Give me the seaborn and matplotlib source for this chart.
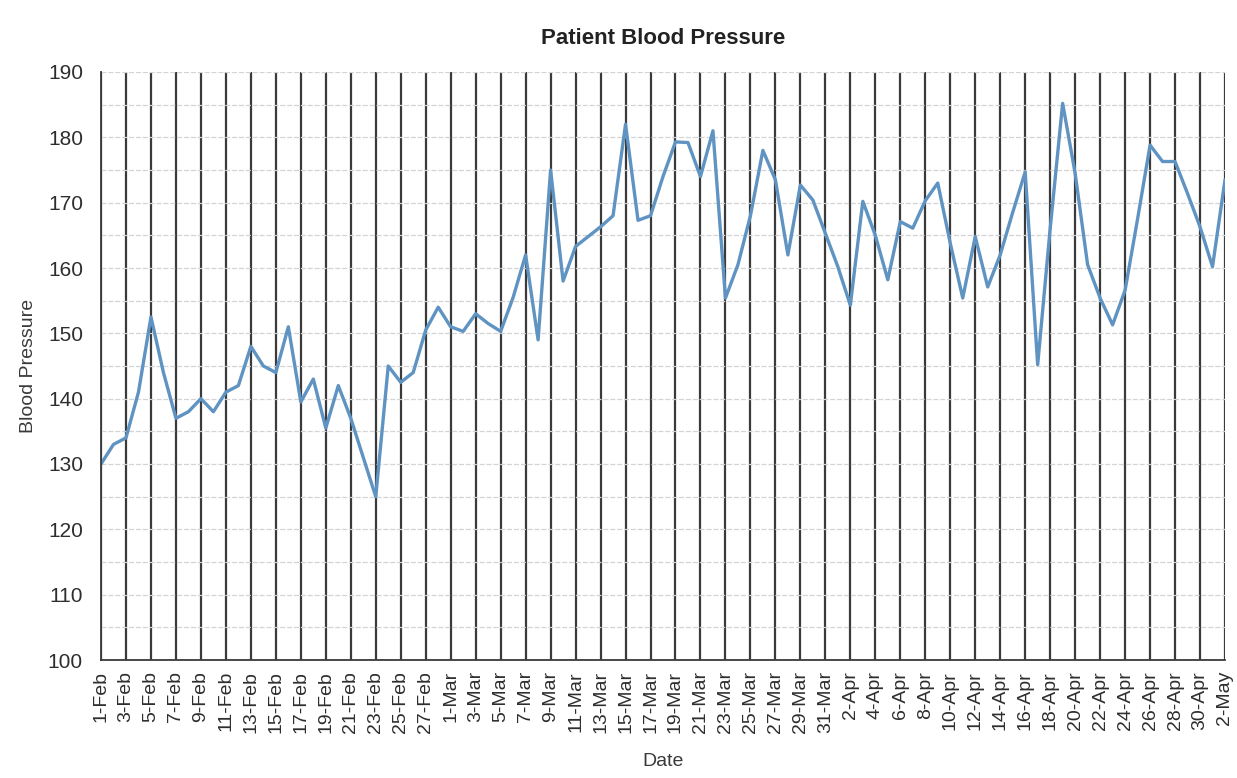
import matplotlib
matplotlib.use("Agg")
import matplotlib.pyplot as plt
from matplotlib.ticker import MultipleLocator
import seaborn as sns
import pandas as pd

# daily readings, 1-Feb .. 2-May
dates = pd.date_range("2023-02-01", "2023-05-02", freq="D")
feb = [130, 133, 134, 141, 152.5, 144, 137, 138, 140, 138, 141, 142, 148, 145,
       144, 151, 139.5, 143, 135.5, 142, 137, 131, 125, 145, 142.5, 144, 150.5, 154]
mar = [151, 150.3, 153, 151.5, 150.3, 155.5, 162, 149, 175, 158, 163.3, 164.8,
       166.3, 168, 182, 167.3, 168, 174, 179.3, 179.2, 174, 181, 155.4, 160.5,
       168, 178, 173.5, 162, 172.7, 170.4, 165.3]
apr = [160.2, 154.3, 170.2, 165, 158.2, 167.1, 166.1, 170.3, 173, 163.8, 155.4,
       164.8, 157.1, 162, 168.5, 174.7, 145.2, 166, 185.2, 174.5, 160.5, 155.4,
       151.3, 156.6, 167.5, 178.8, 176.3, 176.3, 171.4, 166.3]
may = [160.2, 173.5]
bp = feb + mar + apr + may

df = pd.DataFrame({"day": range(len(dates)), "bp": bp})
tick_pos = list(range(0, len(dates), 2))
tick_labels = [f"{d.day}-{d.strftime('%b')}" for d in dates[::2]]

sns.set_style("white")
plt.rcParams["font.family"] = ["Liberation Sans", "DejaVu Sans"]

fig = plt.figure(figsize=(12.37, 7.78), dpi=100)
ax = fig.add_axes([101 / 1237, 1 - 660 / 778, 1124 / 1237, 588 / 778])

# horizontal light grid every 5, dark vertical grid at each labelled day
ax.yaxis.set_minor_locator(MultipleLocator(5))
ax.grid(axis="y", which="both", color="#d4d4d4", linewidth=0.9, linestyle=(0, (4, 1.5)))
ax.set_xticks(tick_pos)
ax.set_xticks(range(len(dates)), minor=True)
ax.grid(axis="x", which="major", color="#3a3a3a", linewidth=1.6)
ax.set_axisbelow(True)

sns.lineplot(data=df, x="day", y="bp", color="#5f93c2", linewidth=2.4, ax=ax)

ax.set_xlim(0, len(dates) - 1)
ax.set_ylim(100, 190)
ax.set_yticks(range(100, 191, 10))
ax.set_xticklabels(tick_labels, rotation=90)
ax.tick_params(axis="x", which="major", length=6, width=1.2, color="#3a3a3a",
               labelsize=14, labelcolor="#2e2e2e", pad=2)
ax.tick_params(axis="x", which="minor", length=3, width=1, color="#555555")
ax.tick_params(axis="y", which="major", length=5, width=1.2, color="#3a3a3a",
               labelsize=15, labelcolor="#2e2e2e", pad=8)
ax.tick_params(axis="y", which="minor", length=0)

for side in ["top", "right"]:
    ax.spines[side].set_visible(False)
for side in ["left", "bottom"]:
    ax.spines[side].set_color("#3a3a3a")
    ax.spines[side].set_linewidth(1.3)

ax.set_xlabel("Date", fontsize=14, color="#3a3a3a", labelpad=14)
ax.set_ylabel("Blood Pressure", fontsize=14, color="#3a3a3a", labelpad=8)
ax.set_title("Patient Blood Pressure", fontsize=16, weight="bold", color="#222222", pad=20)

fig.savefig("out.png", dpi=100, facecolor="white")
